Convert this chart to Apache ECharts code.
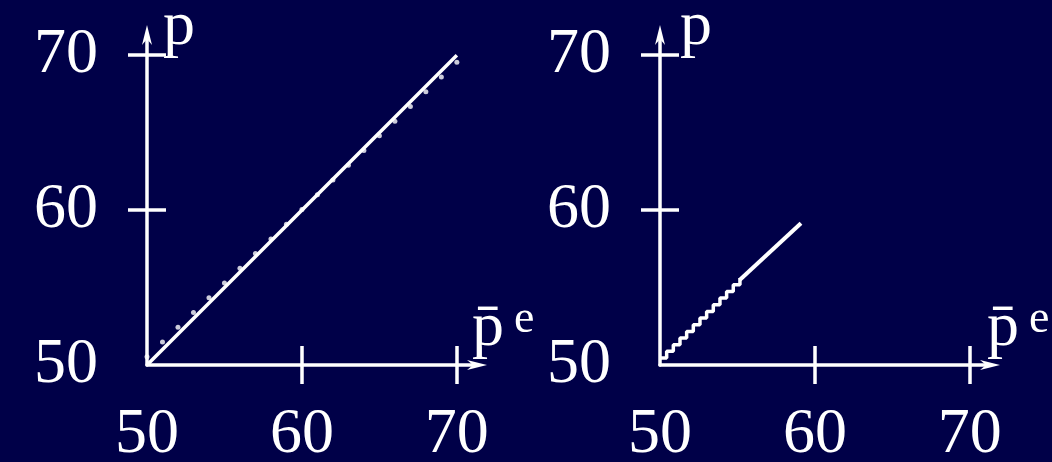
<!DOCTYPE html>
<html>
<head>
<meta charset="utf-8">
<script src="https://cdn.jsdelivr.net/npm/echarts@6/dist/echarts.min.js"></script>
<style>
html,body{margin:0;padding:0;background:#000048;}
#main{width:1052px;height:462px;}
</style>
</head>
<body>
<div id="main"></div>
<script>
var tickVals = [60, 70];
var labelVals = [50, 60, 70];

// left panel: 45 degree line and dotted line
var diagX = [50, 70];
var diagY = [50, 70];
var dotsX = [50, 51, 52, 53, 54, 55, 56, 57, 58, 59, 60, 61, 62, 63, 64, 65, 66, 67, 68, 69, 70];
var dotsY = [50.54, 51.49, 52.44, 53.39, 54.34, 55.29, 56.24, 57.19, 58.14, 59.09, 60.04,
  60.99, 61.94, 62.89, 63.84, 64.79, 65.74, 66.69, 67.64, 68.59, 69.54];

// right panel: staircase then smooth part
var stairX = [50.0, 50.43, 50.86, 51.29, 51.72, 52.15, 52.58, 53.01, 53.44, 53.87, 54.3, 54.73, 55.16];
var stairY = [50.45, 50.88, 51.31, 51.74, 52.17, 52.6, 53.03, 53.46, 53.89, 54.32, 54.75, 55.18, 55.61];
var tailX = [55.16, 59.1];
var tailY = [55.5, 59.15];

var font = 'Liberation Serif';
var white = '#ffffff';
var arrow = 'path://M5,0L10,20L5,14L0,20Z';

function pairs(xs, ys){
  var out = [];
  for(var i=0;i<xs.length;i++){
    out.push([xs[i], ys[i]]);
  }
  return out;
}

function mainX(g, gap){
  return {
    type: 'value', gridIndex: g, min: 50, max: 71.3, position: 'bottom', offset: 0,
    splitLine: {show: false},
    axisLine: {show: true, onZero: false, symbol: ['none', arrow], symbolSize: [16, 20],
      lineStyle: {color: white, width: 3.5}},
    axisTick: {show: true, customValues: tickVals, length: 19, lineStyle: {color: white, width: 3.5}},
    axisLabel: {customValues: labelVals, color: white, fontSize: 64, fontFamily: font, margin: 38},
    name: '{p|p\u0304}{e|e}',
    nameLocation: 'end',
    nameGap: gap,
    nameTextStyle: {
      align: 'left', verticalAlign: 'middle', padding: [0, 0, 73, 0],
      rich: {
        p: {fontSize: 64, lineHeight: 64, fontFamily: font, color: white},
        e: {fontSize: 46, lineHeight: 32, verticalAlign: 'top', fontFamily: font, color: white, padding: [0, 0, 0, 10]}
      }
    }
  };
}
function innerX(g){
  return {
    type: 'value', gridIndex: g, min: 50, max: 71.3, position: 'bottom', offset: 0,
    splitLine: {show: false},
    axisLine: {show: false, onZero: false},
    axisTick: {show: true, inside: true, customValues: tickVals, length: 19, lineStyle: {color: white, width: 3.5}},
    axisLabel: {show: false}
  };
}
function mainY(g, pad){
  return {
    type: 'value', gridIndex: g, min: 50, max: 71.3, position: 'left', offset: 0,
    splitLine: {show: false},
    axisLine: {show: true, onZero: false, symbol: ['none', arrow], symbolSize: [16, 20],
      lineStyle: {color: white, width: 3.5}},
    axisTick: {show: true, customValues: tickVals, length: 19, lineStyle: {color: white, width: 3.5}},
    axisLabel: {customValues: labelVals, color: white, fontSize: 64, fontFamily: font, margin: 49},
    name: 'p',
    nameLocation: 'end',
    nameGap: 8,
    nameTextStyle: {align: 'left', verticalAlign: 'middle', color: white, fontSize: 64,
      fontFamily: font, padding: [0, 0, 0, pad]}
  };
}
function innerY(g){
  return {
    type: 'value', gridIndex: g, min: 50, max: 71.3, position: 'left', offset: 0,
    splitLine: {show: false},
    axisLine: {show: false, onZero: false},
    axisTick: {show: true, inside: true, customValues: tickVals, length: 19, lineStyle: {color: white, width: 3.5}},
    axisLabel: {show: false}
  };
}

var myChart = echarts.init(document.getElementById('main'));
var option = {
  backgroundColor: '#000048',
  animation: false,
  grid: [
    {left: 147, top: 35, width: 330, height: 330, outerBoundsMode: 'none', containLabel: false},
    {left: 660, top: 35, width: 330, height: 330, outerBoundsMode: 'none', containLabel: false}
  ],
  xAxis: [mainX(0, -5), innerX(0), mainX(1, -3), innerX(1)],
  yAxis: [mainY(0, 16), innerY(0), mainY(1, 20), innerY(1)],
  series: [
    {type: 'line', xAxisIndex: 0, yAxisIndex: 0, data: pairs(diagX, diagY), showSymbol: false,
      lineStyle: {color: white, width: 3.5}},
    {type: 'scatter', xAxisIndex: 0, yAxisIndex: 0, data: pairs(dotsX, dotsY), symbolSize: 5,
      itemStyle: {color: white}},
    {type: 'line', xAxisIndex: 2, yAxisIndex: 2, data: pairs(stairX, stairY), step: 'end', showSymbol: false,
      lineStyle: {color: white, width: 3.5}},
    {type: 'line', xAxisIndex: 2, yAxisIndex: 2, data: pairs(tailX, tailY), showSymbol: false,
      lineStyle: {color: white, width: 4}}
  ]
};
myChart.setOption(option);
</script>
</body>
</html>
